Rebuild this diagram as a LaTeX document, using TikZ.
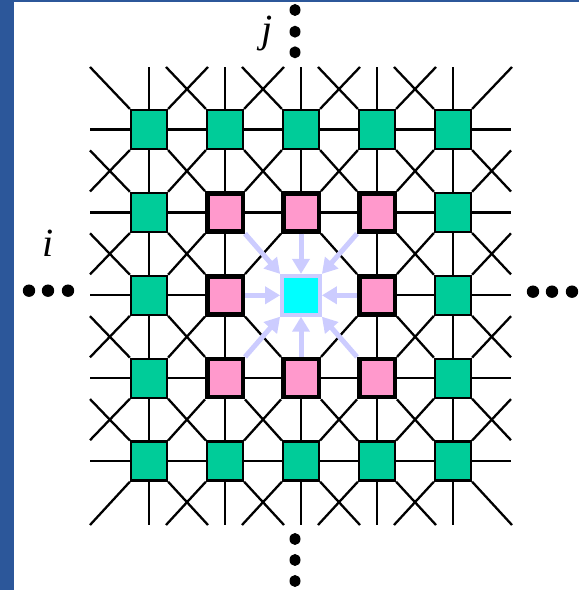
\documentclass[tikz,border=0pt]{standalone}
\usepackage{fontspec}
\setmainfont{Liberation Serif}
\usetikzlibrary{arrows.meta}
\definecolor{slideblue}{RGB}{44,87,154}
\definecolor{cellgreen}{RGB}{0,204,153}
\definecolor{cellpink}{RGB}{255,153,204}
\definecolor{cellcyan}{RGB}{0,255,255}
\definecolor{flowblue}{RGB}{204,204,255}
\begin{document}
\begin{tikzpicture}[x=1pt, y=1pt,
    greencell/.style={draw=black, line width=2.2pt, fill=cellgreen, minimum width=36pt, minimum height=39pt, inner sep=0pt},
    pinkcell/.style={greencell, fill=cellpink, line width=4.5pt, minimum width=35.5pt, minimum height=38pt},
    cyancell/.style={greencell, draw=flowblue, fill=cellcyan, line width=3.8pt, minimum width=38pt, minimum height=39pt},
    link/.style={black, line width=2.3pt},
    flow/.style={flowblue, line width=5pt, -{Triangle[length=15pt,width=17pt]}}]
    \useasboundingbox (0,0) rectangle (579,590);
    % Slide frame
    \fill[slideblue] (0,0) rectangle (14,590);
    \fill[slideblue] (0,588) rectangle (579,590);
    % Cells
    \foreach \c in {1,...,5}
        \foreach \r in {1,...,5} {
            \pgfmathtruncatemacro\ring{max(abs(\c-3),abs(\r-3))}
            \ifcase\ring \def\look{cyancell}\or \def\look{pinkcell}\else \def\look{greencell}\fi
            \node[\look] (s\c\r) at ({73+76*\c},{543.4-82.9*\r}) {};
        }
    % Straight links
    \foreach \c in {1,...,4}
        \foreach \r in {1,...,5} {
            \pgfmathtruncatemacro\nc{\c+1}
            \pgfmathtruncatemacro\hit{(\r==3)&&(\c==2||\c==3)}
            \ifnum\hit=0
                \draw[link] (s\c\r.east) -- (s\nc\r.west);
                \draw[link] (s\r\c.south) -- (s\r\nc.north);
            \fi
        }
    % Diagonal links
    \foreach \c in {1,...,4}
        \foreach \r in {1,...,4} {
            \pgfmathtruncatemacro\nc{\c+1}
            \pgfmathtruncatemacro\nr{\r+1}
            \pgfmathtruncatemacro\hit{(\c==\r)&&(\c==2||\c==3)}
            \ifnum\hit=0 \draw[link] (s\c\r.south east) -- (s\nc\nr.north west); \fi
            \pgfmathtruncatemacro\hit{(\c+\r==5)&&(\c==2||\c==3)}
            \ifnum\hit=0 \draw[link] (s\nc\r.south west) -- (s\c\nr.north east); \fi
        }
    % Open ends, top and bottom
    \foreach \k in {1,...,5} {
        \coordinate (tn\k) at ({73+76*\k},523);
        \coordinate (tw\k) at ({14+76*\k},523);
        \coordinate (te\k) at ({132+76*\k},523);
        \coordinate (bs\k) at ({73+76*\k},65);
        \coordinate (bw\k) at ({14+76*\k},65);
        \coordinate (be\k) at ({132+76*\k},65);
        \draw[link] (s\k1.north) -- (tn\k);
        \draw[link] (s\k1.north west) -- (tw\k);
        \draw[link] (s\k1.north east) -- (te\k);
        \draw[link] (s\k5.south) -- (bs\k);
        \draw[link] (s\k5.south west) -- (bw\k);
        \draw[link] (s\k5.south east) -- (be\k);
    }
    % Open ends, left and right
    \foreach \k in {1,...,5} {
        \coordinate (lw\k) at (90,{543.4-82.9*\k});
        \coordinate (re\k) at (511,{543.4-82.9*\k});
        \draw[link] (s1\k.west) -- (lw\k);
        \draw[link] (s5\k.east) -- (re\k);
    }
    \foreach \k in {1,...,4} {
        \pgfmathtruncatemacro\nk{\k+1}
        \coordinate (ld\k) at (90,{481.4-82.9*\k});
        \coordinate (lu\k) at (90,{605.4-82.9*\nk});
        \coordinate (rd\k) at (511,{481.4-82.9*\k});
        \coordinate (ru\k) at (511,{605.4-82.9*\nk});
        \draw[link] (s1\k.south west) -- (ld\k);
        \draw[link] (s1\nk.north west) -- (lu\k);
        \draw[link] (s5\k.south east) -- (rd\k);
        \draw[link] (s5\nk.north east) -- (ru\k);
    }
    % Flow into the centre cell
    \foreach \from/\fa/\ta in {22/south east/north west, 32/south/north, 42/south west/north east,
            43/west/east, 44/north west/south east, 34/north/south, 24/north east/south west, 23/east/west}
        \draw[flow] (s\from.\fa) -- (s33.\ta);
    % Index labels
    \node[anchor=base, font=\fontsize{40}{40}\selectfont\itshape] (jlabel) at (267.5,547) {j};
    \node[anchor=base, font=\fontsize{40}{40}\selectfont\itshape] (ilabel) at (48,333.3) {i};
    % Ellipses
    \foreach \y in {580,558.3,537.7,51,30,9}
        \fill (295,\y) ellipse (5.5pt and 6pt);
    \foreach \x in {29,48,68}
        \fill (\x,299.3) circle (6.2pt);
    \foreach \x in {533,552,572}
        \fill (\x,298.3) circle (6.2pt);
\end{tikzpicture}
\end{document}
